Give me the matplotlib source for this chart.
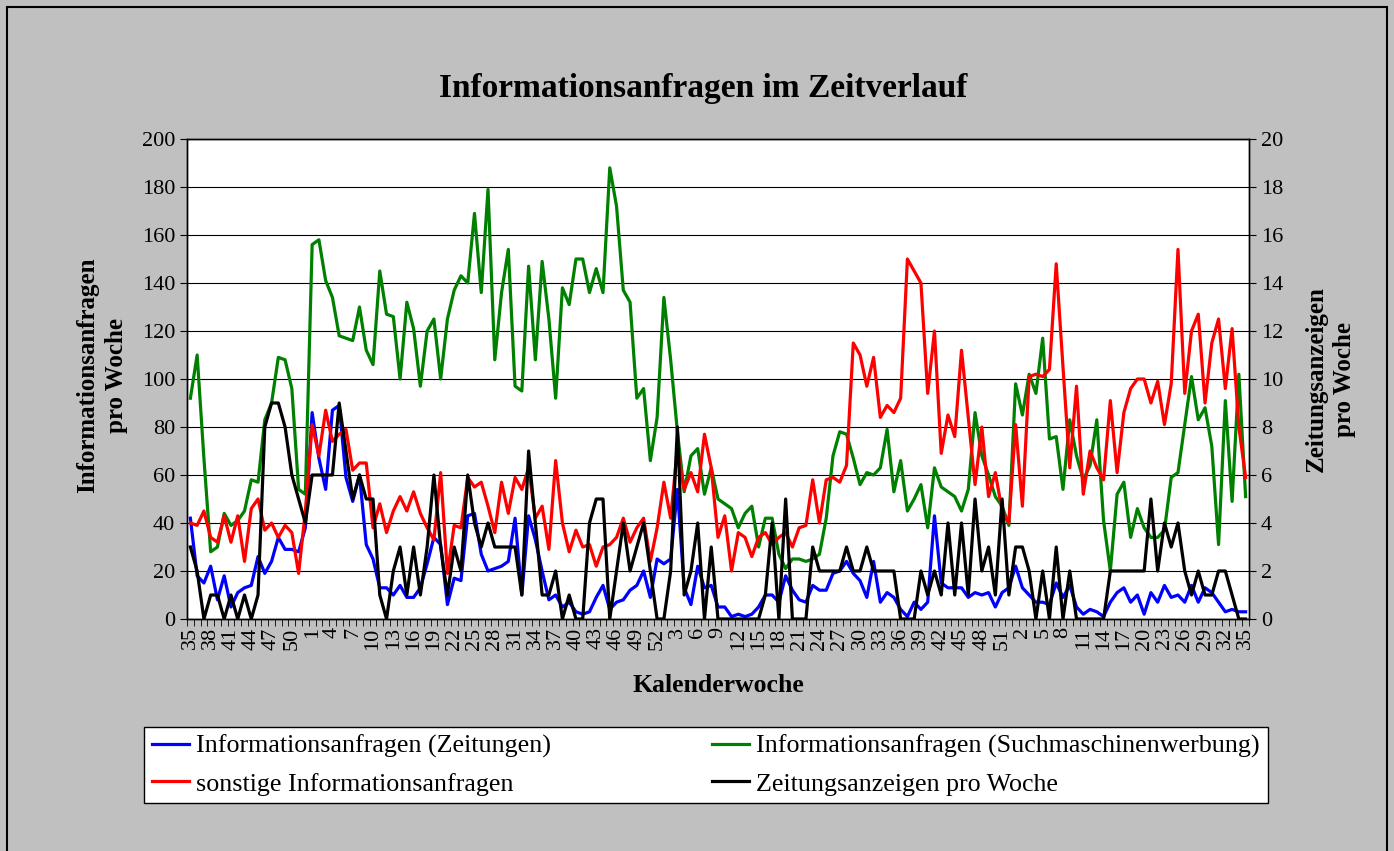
import numpy as np
import matplotlib
matplotlib.use("Agg")
import matplotlib.pyplot as plt
from matplotlib.patches import Rectangle

plt.rcParams["font.family"] = ["Liberation Serif", "DejaVu Serif"]

# Kalenderwochen: KW35 bis KW52, dann zwei volle Jahre, dann KW1 bis KW35
kw = list(range(35, 53)) + list(range(1, 53)) + list(range(1, 53)) + list(range(1, 36))

zeitungen = [42, 18, 15, 22, 8, 18, 5, 11, 13, 14, 26, 19, 24, 34, 29, 29, 28, 38, 86, 67,
             54, 87, 89, 59, 49, 60, 31, 25, 13, 13, 10, 14, 9, 9, 13, 23, 34, 31, 6, 17,
             16, 43, 44, 27, 20, 21, 22, 24, 42, 10, 43, 33, 20, 8, 10, 5, 7, 3, 2, 3,
             9, 14, 4, 7, 8, 12, 14, 20, 9, 25, 23, 25, 54, 13, 6, 22, 13, 14, 5, 5,
             1, 2, 1, 2, 5, 10, 10, 7, 18, 12, 8, 7, 14, 12, 12, 19, 20, 24, 19, 16,
             9, 24, 7, 11, 9, 4, 1, 7, 4, 7, 43, 15, 13, 13, 13, 9, 11, 10, 11, 5,
             11, 13, 22, 13, 10, 7, 7, 6, 15, 9, 14, 5, 2, 4, 3, 1, 7, 11, 13, 7,
             10, 2, 11, 7, 14, 9, 10, 7, 14, 7, 13, 11, 7, 3, 4, 3, 3]

suchmaschine = [92, 110, 67, 28, 30, 44, 39, 41, 45, 58, 57, 83, 90, 109, 108, 96, 54, 52, 156, 158,
                141, 134, 118, 117, 116, 130, 112, 106, 145, 127, 126, 100, 132, 121, 97, 120, 125, 100, 125, 137,
                143, 140, 169, 136, 179, 108, 136, 154, 97, 95, 147, 108, 149, 125, 92, 138, 131, 150, 150, 136,
                146, 136, 188, 172, 137, 132, 92, 96, 66, 84, 134, 108, 78, 53, 68, 71, 52, 63, 50, 48,
                46, 38, 44, 47, 30, 42, 42, 27, 21, 25, 25, 24, 25, 27, 42, 68, 78, 77, 67, 56,
                61, 60, 63, 79, 53, 66, 45, 50, 56, 38, 63, 55, 53, 51, 45, 54, 86, 68, 60, 51,
                47, 39, 98, 85, 102, 94, 117, 75, 76, 54, 83, 68, 58, 64, 83, 41, 20, 52, 57, 34,
                46, 38, 34, 34, 37, 59, 61, 81, 101, 83, 88, 72, 31, 91, 49, 102, 51]

sonstige = [40, 39, 45, 34, 32, 43, 32, 43, 24, 46, 50, 37, 40, 34, 39, 36, 19, 45, 81, 68,
            87, 74, 77, 79, 62, 65, 65, 38, 48, 36, 45, 51, 45, 53, 44, 38, 33, 61, 19, 39,
            38, 59, 55, 57, 47, 36, 57, 44, 59, 54, 63, 42, 47, 29, 66, 40, 28, 37, 30, 31,
            22, 30, 31, 34, 42, 32, 38, 42, 24, 38, 57, 42, 71, 54, 61, 53, 77, 63, 34, 43,
            20, 36, 34, 26, 34, 36, 31, 34, 36, 30, 38, 39, 58, 40, 58, 59, 57, 64, 115, 110,
            97, 109, 84, 89, 86, 92, 150, 145, 140, 94, 120, 69, 85, 76, 112, 84, 56, 80, 51, 61,
            45, 40, 81, 47, 101, 102, 101, 104, 148, 105, 63, 97, 52, 70, 63, 58, 91, 61, 86, 96,
            100, 100, 90, 99, 81, 98, 154, 94, 120, 127, 90, 115, 125, 96, 121, 80, 59]

anzeigen = [3, 2, 0, 1, 1, 0, 1, 0, 1, 0, 1, 8, 9, 9, 8, 6, 5, 4, 6, 6,
            6, 6, 9, 7, 5, 6, 5, 5, 1, 0, 2, 3, 1, 3, 1, 3, 6, 3, 1, 3,
            2, 6, 4, 3, 4, 3, 3, 3, 3, 1, 7, 4, 1, 1, 2, 0, 1, 0, 0, 4,
            5, 5, 0, 2, 4, 2, 3, 4, 2, 0, 0, 2, 8, 1, 2, 4, 0, 3, 0, 0,
            0, 0, 0, 0, 0, 1, 4, 0, 5, 0, 0, 0, 3, 2, 2, 2, 2, 3, 2, 2,
            3, 2, 2, 2, 2, 0, 0, 0, 2, 1, 2, 1, 4, 1, 4, 1, 5, 2, 3, 1,
            5, 1, 3, 3, 2, 0, 2, 0, 3, 0, 2, 0, 0, 0, 0, 0, 2, 2, 2, 2,
            2, 2, 5, 2, 4, 3, 4, 2, 1, 2, 1, 1, 2, 2, 1, 0, 0]

W, H = 1394, 851
fig = plt.figure(figsize=(W / 100, H / 100), dpi=100, facecolor="#C0C0C0")

# Rahmen um das Diagramm
fig.patches.append(Rectangle((7 / W, -0.05), 1380 / W, 1.05 - 7 / H, transform=fig.transFigure,
                             fill=False, edgecolor="black", linewidth=1.5))

ax = fig.add_axes([187 / W, 1 - 619 / H, (1249 - 187) / W, (619 - 139) / H])
ax.set_facecolor("white")
x = np.arange(len(kw))

l1, = ax.plot(x, zeitungen, color="#0000FF", linewidth=2.3)
l2, = ax.plot(x, suchmaschine, color="#008000", linewidth=2.3)
l3, = ax.plot(x, sonstige, color="#FF0000", linewidth=2.3)

ax.set_xlim(-0.5, len(kw) - 0.5)
ax.set_ylim(0, 200)
ax.set_yticks(range(0, 201, 20))
ax.yaxis.grid(True, color="black", linewidth=0.8)
ax.set_axisbelow(True)

ax.set_xticks(x[::3])
ax.set_xticklabels([str(k) for k in kw[::3]], rotation=90, fontsize=16)
ax.set_xticks(np.arange(-0.5, len(kw), 1), minor=True)
ax.tick_params(axis="x", which="major", length=0, pad=6)
ax.tick_params(axis="x", which="minor", length=5, direction="out")
ax.tick_params(axis="y", labelsize=16, length=5, direction="out")

ax2 = ax.twinx()
l4, = ax2.plot(x, anzeigen, color="black", linewidth=2.3)
ax2.set_ylim(0, 20)
ax2.set_yticks(range(0, 21, 2))
ax2.tick_params(axis="y", labelsize=16, length=5, direction="out")

for a in (ax, ax2):
    for s in a.spines.values():
        s.set_color("black")
        s.set_linewidth(1)

fig.text(703 / W, 1 - 88 / H, "Informationsanfragen im Zeitverlauf",
         fontsize=24, fontweight="bold", ha="center", va="center")
fig.text(102 / W, 1 - 375 / H, "Informationsanfragen\npro Woche", rotation=90,
         fontsize=18, fontweight="bold", ha="center", va="center", multialignment="center",
         linespacing=1.35)
fig.text(1330 / W, 1 - 379 / H, "Zeitungsanzeigen\npro Woche", rotation=90,
         fontsize=18, fontweight="bold", ha="center", va="center", multialignment="center",
         linespacing=1.3)
fig.text(718 / W, 1 - 685 / H, "Kalenderwoche", fontsize=18.5, fontweight="bold",
         ha="center", va="center")

leg = fig.legend([l1, l3, l2, l4],
                 ["Informationsanfragen (Zeitungen)", "sonstige Informationsanfragen",
                  "Informationsanfragen (Suchmaschinenwerbung)", "Zeitungsanzeigen pro Woche"],
                 ncol=2, loc="center", bbox_to_anchor=(706 / W, 1 - 765 / H),
                 fontsize=18.7, fancybox=False, framealpha=1, edgecolor="black",
                 handlelength=1.42, handletextpad=0.27, columnspacing=6.2, labelspacing=0.55,
                 borderpad=0.3)
leg.get_frame().set_linewidth(1)

fig.savefig("out.png", dpi=100, facecolor=fig.get_facecolor())
